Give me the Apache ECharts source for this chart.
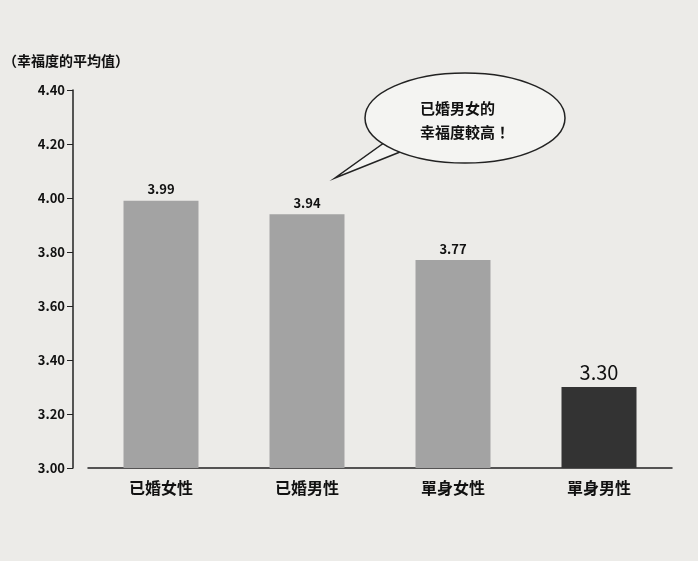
<!DOCTYPE html>
<html><head><meta charset="utf-8">
<script src="https://cdn.jsdelivr.net/npm/echarts@6/dist/echarts.min.js"></script>
<style>html,body{margin:0;padding:0;background:#ecebe8}#c{width:698px;height:561px}</style>
</head><body><div id="c"></div>
<script>
const categories = ['已婚女性','已婚男性','單身女性','單身男性'];
const values = [3.99, 3.94, 3.77, 3.30];
const barColors = ['#a3a3a3','#a3a3a3','#a3a3a3','#333333'];
const yTitle = '（幸福度的平均值）';
const bubbleText = '已婚男女的\n幸福度較高！';
const font = '"Noto Sans CJK TC", "Noto Sans", sans-serif';
const chart = echarts.init(document.getElementById('c'));
chart.setOption({
  backgroundColor: '#ecebe8',
  textStyle: {fontFamily: font},
  grid: {left: 80, right: 26, top: 90, bottom: 93},
  xAxis: {type: 'category', data: categories,
    axisLine: {lineStyle: {color: '#222', width: 1.5}}, axisTick: {show: false},
    axisLabel: {color: '#111', fontSize: 16, fontWeight: 'bold', margin: 12}},
  yAxis: {type: 'value', min: 3.0, max: 4.4, interval: 0.2, offset: 15,
    name: yTitle, nameLocation: 'end', nameGap: 22,
    nameTextStyle: {color: '#111', fontSize: 14, fontWeight: 'bold', align: 'left', padding: [0,0,0,-70]},
    axisLine: {show: true, lineStyle: {color: '#222', width: 1.5}},
    axisTick: {show: true, length: 6, lineStyle: {color: '#222'}},
    splitLine: {show: false},
    axisLabel: {color: '#111', fontSize: 13, fontWeight: 'bold', formatter: v => v.toFixed(2)}},
  series: [{type: 'bar', barWidth: 75,
    data: values.map((v,i) => ({value: v, itemStyle: {color: barColors[i]},
      label: i === 3 ? {fontSize: 20, fontWeight: 'normal'} : {}})),
    label: {show: true, position: 'top', color: '#111', fontSize: 13, fontWeight: 'bold',
      formatter: p => p.value.toFixed(2)}}],
  graphic: [
    {type: 'polygon', shape: {points: [[395,135],[430,140],[335,178]]},
      style: {fill: '#f4f4f2', stroke: '#222', lineWidth: 1.5}, z: 10},
    {type: 'ellipse', shape: {cx: 465, cy: 118, rx: 100, ry: 45},
      style: {fill: '#f4f4f2', stroke: '#222', lineWidth: 1.5}, z: 11},
    {type: 'polygon', shape: {points: [[398,130],[432,135],[420,150]]},
      style: {fill: '#f4f4f2'}, z: 12},
    {type: 'text', left: 420, top: 96, z: 13,
      style: {text: bubbleText, fill: '#111', font: 'bold 15px ' + font, align: 'center', lineHeight: 24}, x: 0}
  ]
});
</script></body></html>
